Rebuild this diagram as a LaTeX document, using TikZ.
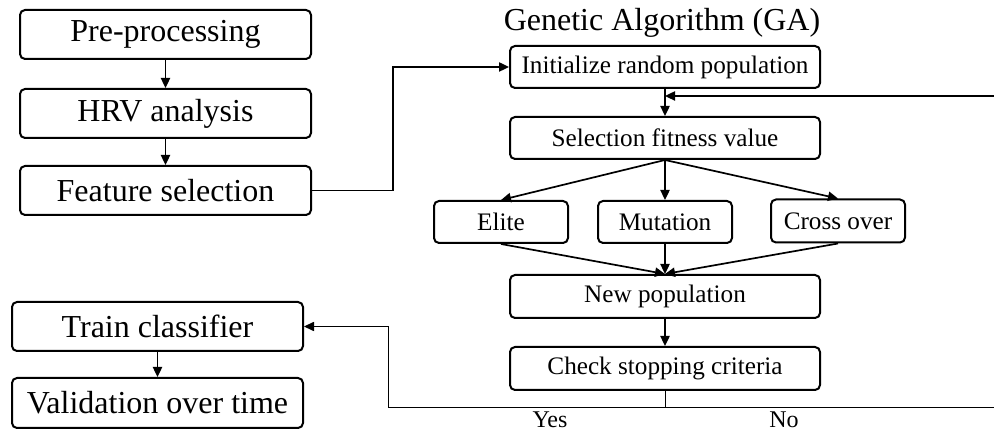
\documentclass[tikz,border=0pt]{standalone}
\usepackage{fontspec}
\setmainfont{Liberation Serif}
\usetikzlibrary{arrows.meta,positioning}

\begin{document}
\begin{tikzpicture}[x=0.5pt,y=-0.5pt,>={Triangle[length=5pt,width=4.6pt]},
  stage/.style={draw,line width=1pt,rounded corners=2.5pt,minimum width=145.5pt,minimum height=24.5pt,inner sep=0pt,font=\fontsize{16}{19}\selectfont},
  gabox/.style={draw,line width=1pt,rounded corners=2.5pt,minimum width=155pt,minimum height=21.5pt,inner sep=0pt,font=\fontsize{12.6}{15}\selectfont},
  opbox/.style={gabox,minimum width=67pt},
  link/.style={->,line width=0.85pt},
  thinline/.style={line width=0.5pt}]
  \useasboundingbox (0,0) rectangle (994,431);
  % left column
  \node[stage] (pre) at (165.5,34.5) {Pre-processing};
  \node[stage] (hrv) at (165.5,113.5) {HRV analysis};
  \node[stage] (feat) at (165.5,190.5) {Feature selection};
  \node[stage] (train) at (157.5,326.5) {Train classifier};
  \node[stage,minimum height=25pt] (valid) at (157.5,403) {Validation over time};
  \draw[link] (pre) -- (hrv);
  \draw[link] (hrv) -- (feat);
  \draw[link] (train) -- (valid);
  % genetic algorithm
  \node[font=\fontsize{16}{19}\selectfont,anchor=base] (title) at (662,31) {Genetic Algorithm (GA)};
  \node[gabox,minimum height=21pt] (init) at (665,67) {Initialize random population};
  \node[gabox,minimum height=21pt] (sel) at (665,138) {Selection fitness value};
  \node[opbox,minimum height=21pt] (elite) at (501,222) {Elite};
  \node[opbox,minimum height=21pt] (mut) at (665,222) {Mutation};
  \node[opbox] (cross) at (838,221) {Cross over};
  \node[gabox] (newpop) at (665,296.5) {New population};
  \node[gabox] (check) at (665,368.5) {Check stopping criteria};
  \draw[link] (feat.east) -- ++(81,0) |- (init.west);
  \draw[link] (init.south) -- (init.south |- sel.north);
  \coordinate (loopin) at (994,96);
  \draw[link] (loopin) -- (loopin -| init.south);
  \foreach \op in {elite,mut,cross} {
    \draw[link] (sel.south) -- (\op.north);
    \draw[link] (\op.south) -- (newpop.north);
  }
  \draw[link] (newpop) -- (check);
  % stopping decision
  \coordinate (stopleft) at (388,408);
  \coordinate (stopright) at (994,408);
  \draw[thinline] (check.south) -- (check.south |- stopright);
  \draw[thinline] (stopright) -- (stopleft);
  \draw[thinline,->] (stopleft) |- (train.east);
  \node[font=\fontsize{12}{14}\selectfont] (yes) at (550,420) {Yes};
  \node[font=\fontsize{12}{14}\selectfont] (no) at (784,420) {No};
\end{tikzpicture}
\end{document}
